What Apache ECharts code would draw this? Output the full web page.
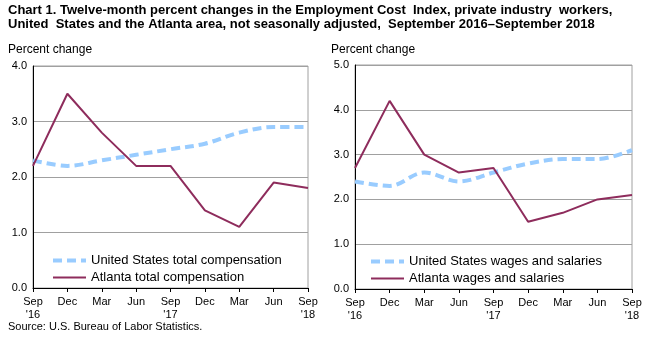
<!DOCTYPE html>
<html>
<head>
<meta charset="utf-8">
<script src="https://cdn.jsdelivr.net/npm/echarts@6/dist/echarts.min.js"></script>
<style>
  html, body { margin: 0; padding: 0; background: #fff; }
  #chart { width: 653px; height: 339px; }
</style>
</head>
<body>
<div id="chart"></div>
<script>
// Quarterly points, September 2016 through September 2018
const categories = ["Sep\n'16", "Dec", "Mar", "Jun", "Sep\n'17", "Dec", "Mar", "Jun", "Sep\n'18"];

// Total compensation, twelve-month percent change
const usTotalComp = [2.3, 2.2, 2.3, 2.4, 2.5, 2.6, 2.8, 2.9, 2.9];
const atlTotalComp = [2.2, 3.5, 2.8, 2.2, 2.2, 1.4, 1.1, 1.9, 1.8];

// Wages and salaries, twelve-month percent change
const usWages = [2.4, 2.3, 2.6, 2.4, 2.6, 2.8, 2.9, 2.9, 3.1];
const atlWages = [2.7, 4.2, 3.0, 2.6, 2.7, 1.5, 1.7, 2.0, 2.1];

// Y-axis tick labels
const leftTicks = ["0.0", "1.0", "2.0", "3.0", "4.0"];
const rightTicks = ["0.0", "1.0", "2.0", "3.0", "4.0", "5.0"];

const FONT = "'Liberation Sans', Arial, sans-serif";
const US_COLOR = '#99CCFF';
const ATL_COLOR = '#8E2C5C';
const GRID_COLOR = '#A0A0A0';
const US_LINE = { color: US_COLOR, width: 4, type: [9, 5] };
const ATL_LINE = { color: ATL_COLOR, width: 2, type: 'solid' };

function xAxis(gridIndex) {
  return {
    type: 'category', gridIndex, data: categories, boundaryGap: false,
    axisLine: { lineStyle: { color: '#000', width: 1 } },
    axisTick: { show: true, alignWithLabel: true, length: 4, inside: false, lineStyle: { color: '#000' } },
    axisLabel: { color: '#000', fontFamily: FONT, fontSize: 11, lineHeight: 13, margin: 7, interval: 0 },
    splitLine: { show: false }
  };
}

function yAxis(gridIndex, ticks) {
  return {
    type: 'value', gridIndex, min: 0, max: ticks.length - 1, interval: 1,
    axisLine: { show: true, lineStyle: { color: '#000', width: 1 } },
    axisTick: { show: false },
    axisLabel: { color: '#000', fontFamily: FONT, fontSize: 11, margin: 6,
      formatter: v => ticks[Math.round(v)] },
    splitLine: { show: true, lineStyle: { color: GRID_COLOR, width: 1 } }
  };
}

function usSeries(name, idx, data) {
  return {
    name, type: 'line', xAxisIndex: idx, yAxisIndex: idx, data,
    smooth: 0.35, symbol: 'none',
    lineStyle: US_LINE,
    itemStyle: { color: US_COLOR }, z: 3
  };
}

function atlSeries(name, idx, data) {
  return {
    name, type: 'line', xAxisIndex: idx, yAxisIndex: idx, data,
    smooth: false, symbol: 'none',
    lineStyle: ATL_LINE,
    itemStyle: { color: ATL_COLOR }, z: 4
  };
}

// Line-only legend keys: the marker symbol is hidden, the series line style is kept
function legend(left, top, usName, atlName) {
  return {
    show: true, left, top, orient: 'vertical', itemWidth: 33, itemHeight: 12, itemGap: 4,
    data: [
      { name: usName, lineStyle: US_LINE },
      { name: atlName, lineStyle: ATL_LINE }
    ],
    selectedMode: false,
    itemStyle: { opacity: 0 },
    textStyle: { color: '#000', fontFamily: FONT, fontSize: 13 },
    padding: 0
  };
}

const chart = echarts.init(document.getElementById('chart'));
chart.setOption({
  animation: false,
  backgroundColor: '#fff',
  textStyle: { fontFamily: FONT },
  title: [
    {
      text: 'Chart 1. Twelve-month percent changes in the Employment Cost  Index, private industry  workers,\nUnited  States and the Atlanta area, not seasonally adjusted,  September 2016\u2013September 2018',
      left: 8, top: 3, padding: 0,
      textStyle: { fontFamily: FONT, fontSize: 13, fontWeight: 'bold', lineHeight: 14, color: '#000' }
    },
    { text: 'Percent change', left: 8, top: 44, padding: 0,
      textStyle: { fontFamily: FONT, fontSize: 12, fontWeight: 'normal', color: '#000' } },
    { text: 'Percent change', left: 331, top: 44, padding: 0,
      textStyle: { fontFamily: FONT, fontSize: 12, fontWeight: 'normal', color: '#000' } },
    { text: 'Source: U.S. Bureau of Labor Statistics.', left: 8, top: 321, padding: 0,
      textStyle: { fontFamily: FONT, fontSize: 11, fontWeight: 'normal', color: '#000' } }
  ],
  grid: [
    { left: 33, right: 345, top: 66, bottom: 51, show: true, borderColor: GRID_COLOR, borderWidth: 1, backgroundColor: 'transparent' },
    { left: 355, right: 21, top: 65, bottom: 50, show: true, borderColor: GRID_COLOR, borderWidth: 1, backgroundColor: 'transparent' }
  ],
  xAxis: [xAxis(0), xAxis(1)],
  yAxis: [yAxis(0, leftTicks), yAxis(1, rightTicks)],
  legend: [
    legend(51, 254, 'United States total compensation', 'Atlanta total compensation'),
    legend(369, 255, 'United States wages and salaries', 'Atlanta wages and salaries')
  ],
  series: [
    usSeries('United States total compensation', 0, usTotalComp),
    atlSeries('Atlanta total compensation', 0, atlTotalComp),
    usSeries('United States wages and salaries', 1, usWages),
    atlSeries('Atlanta wages and salaries', 1, atlWages)
  ]
});
</script>
</body>
</html>
